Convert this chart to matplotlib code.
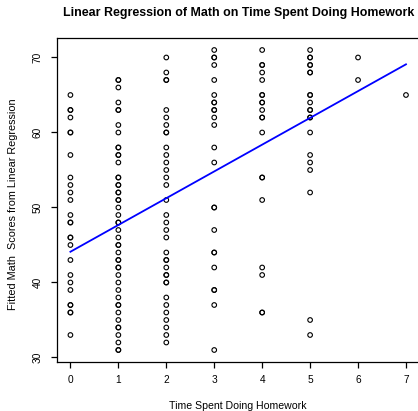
import matplotlib
matplotlib.use("Agg")
import matplotlib.pyplot as plt
import numpy as np

# Hours of homework per week and math scores observed at each level
hours_0 = [65, 63, 63, 62, 60, 60, 57, 54, 53, 52, 51, 49, 48, 48, 46, 46, 45, 43, 41, 40, 39, 37, 37, 36, 36, 33]
hours_1 = [67, 67, 66, 64, 63, 63, 61, 60, 58, 58, 57, 57, 56, 54, 54, 53, 53, 52, 52, 51, 51, 50, 49, 48, 48,
           47, 46, 45, 45, 44, 43, 43, 42, 42, 41, 40, 39, 38, 37, 37, 36, 35, 34, 34, 33, 32, 31, 31]
hours_2 = [70, 68, 67, 67, 63, 62, 61, 60, 60, 58, 57, 56, 55, 54, 53, 51, 49, 48, 47, 46, 44, 43, 43, 42, 41, 41,
           40, 40, 38, 37, 36, 35, 34, 33, 32]
hours_3 = [71, 70, 70, 69, 67, 65, 64, 64, 63, 63, 62, 61, 58, 56, 50, 50, 47, 44, 44, 42, 39, 39, 37, 31]
hours_4 = [71, 69, 69, 68, 67, 65, 65, 64, 64, 63, 62, 62, 60, 54, 54, 51, 42, 41, 36, 36]
hours_5 = [71, 70, 70, 69, 69, 68, 68, 65, 65, 64, 63, 63, 62, 62, 60, 57, 56, 55, 52, 35, 33]
hours_6 = [70, 67]
hours_7 = [65]

scores_by_hours = [hours_0, hours_1, hours_2, hours_3, hours_4, hours_5, hours_6, hours_7]

# Fitted regression line: intercept and slope
fit_intercept = 44.1
fit_slope = 3.57

x_ticks = [0, 1, 2, 3, 4, 5, 6, 7]
y_ticks = [30, 40, 50, 60, 70]

plt.rcParams["font.family"] = ["Liberation Sans", "DejaVu Sans"]

fig = plt.figure(figsize=(4.18, 4.11), dpi=100)
ax = fig.add_axes([57 / 418, 49 / 411, 362.4 / 418, 324 / 411])

xs, ys = [], []
for h, vals in enumerate(scores_by_hours):
    xs.extend([h] * len(vals))
    ys.extend(vals)
xs = np.array(xs, dtype=float)
ys = np.array(ys, dtype=float)

ax.scatter(xs, ys, s=11, facecolors="none", edgecolors="black", linewidths=0.8, zorder=2)

fit_x = np.array([min(x_ticks), max(x_ticks)], dtype=float)
ax.plot(fit_x, fit_intercept + fit_slope * fit_x, color="#0000ff", lw=1.3, zorder=3)

ax.set_xlim(-0.28, 7.28)
ax.set_ylim(29.4, 72.6)
ax.set_xticks(x_ticks)
ax.set_yticks(y_ticks)
ax.set_yticklabels([str(v) for v in y_ticks], rotation=90, va="center")

for side in ax.spines.values():
    side.set_linewidth(0.9)
    side.set_color("black")

ax.tick_params(axis="both", direction="out", length=4.3, width=0.9, labelsize=7.3, color="black")
ax.tick_params(axis="x", pad=5)
ax.tick_params(axis="y", pad=6)

ax.set_xlabel("Time Spent Doing Homework", fontsize=7.6, va="center")
ax.xaxis.set_label_coords(0.4995, (362 - 406) / 324)
ax.set_ylabel("Fitted Math  Scores from Linear Regression", fontsize=7.8, va="center")
ax.yaxis.set_label_coords((13 - 57) / 362.4, (362 - 204) / 324)

fig.text(238.5 / 418, 1 - 13 / 411, "Linear Regression of Math on Time Spent Doing Homework",
         ha="center", va="center", fontsize=8.9, fontweight="bold")

fig.savefig("out.png", dpi=100)
